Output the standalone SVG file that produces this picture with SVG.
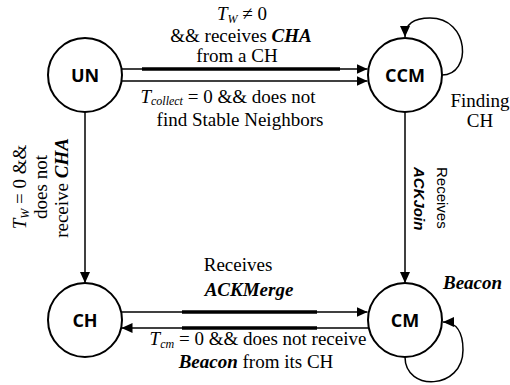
<svg xmlns="http://www.w3.org/2000/svg" width="510" height="385" viewBox="0 0 510 385">
<style>
.node{fill:#fff;stroke:#000;stroke-width:2}
.nl{font-family:"Open Sans","Liberation Sans",sans-serif;font-weight:bold;font-size:18px;text-anchor:middle;fill:#000}
.ln{fill:none;stroke:#000;stroke-width:1.5}
.thick{fill:none;stroke:#000;stroke-width:3.5}
.t{font-family:'Liberation Serif','Times New Roman','DejaVu Serif',serif;font-size:19px;fill:#000;text-anchor:middle}
.i{font-style:italic}
.bi{font-style:italic;font-weight:bold}
.sub{font-style:italic;font-size:12px}
.s{font-family:'Liberation Sans',Arial,sans-serif;font-size:15px;fill:#000}
</style>
<defs>
<marker id="ah" markerUnits="userSpaceOnUse" markerWidth="12" markerHeight="10" refX="11" refY="5" orient="auto">
<path d="M0,0 L11,5 L0,10 z" fill="#000"/>
</marker>
</defs>
<g id="connectors">
<path class="ln" d="M121.5,69 H367.5" marker-end="url(#ah)"/>
<path class="ln" d="M121.5,81 H367.5" marker-end="url(#ah)"/>
<path class="thick" d="M142,69 H340"/>
<path class="ln" d="M85,112 V283" marker-end="url(#ah)"/>
<path class="ln" d="M405,112 V283" marker-end="url(#ah)"/>
<path class="ln" d="M121,312 H367.5" marker-end="url(#ah)"/>
<path class="ln" d="M369,328 H121.5" marker-end="url(#ah)"/>
<path class="thick" d="M182,312 H317"/>
<path class="thick" d="M182,328 H317"/>
<path class="ln" d="M442,75 C472,75 470,18 430,18 C412,18 405,25 405,37" marker-end="url(#ah)"/>
<path class="ln" d="M405,357 C405,392 463,390 463,350 C463,332 456,322 443,322" marker-end="url(#ah)"/>
</g>
<g id="UN"><circle class="node" cx="85" cy="75" r="37"/><text class="nl" x="85" y="82">UN</text></g>
<g id="CCM"><circle class="node" cx="405" cy="75" r="37"/><text class="nl" x="405" y="82">CCM</text></g>
<g id="CH"><circle class="node" cx="85" cy="320" r="37"/><text class="nl" x="85" y="327">CH</text></g>
<g id="CM"><circle class="node" cx="405" cy="320" r="37"/><text class="nl" x="405" y="327">CM</text></g>
<g id="labels">
<text class="t" x="242" y="20"><tspan class="i">T</tspan><tspan class="sub" dy="3">W</tspan><tspan dy="-3"> ≠ 0</tspan></text>
<text class="t" x="241" y="42">&amp;&amp; receives <tspan class="bi">CHA</tspan></text>
<text class="t" x="237" y="62">from a CH</text>
<text class="t" x="228" y="103"><tspan class="i">T</tspan><tspan class="sub" dy="2">collect</tspan><tspan dy="-2"> = 0 &amp;&amp; does not</tspan></text>
<text class="t" x="240" y="126">find Stable Neighbors</text>
<text class="t" x="480" y="107">Finding</text>
<text class="t" x="480" y="127">CH</text>
<g transform="translate(26,187) rotate(-90)"><text class="t" x="0" y="0"><tspan class="i">T</tspan><tspan class="sub" dy="3">W</tspan><tspan dy="-3"> = 0 &amp;&amp;</tspan></text></g>
<g transform="translate(47,187) rotate(-90)"><text class="t" x="0" y="0">does not</text></g>
<g transform="translate(68,188) rotate(-90)"><text class="t" x="0" y="0">receive <tspan class="bi">CHA</tspan></text></g>
<g transform="translate(437,167) rotate(90)"><text class="s" x="0" y="0">Receives</text></g>
<g transform="translate(414,167) rotate(90)"><text class="s" x="0" y="0" font-weight="bold" font-style="italic">ACKJoin</text></g>
<text class="t" x="238" y="271">Receives</text>
<text class="t bi" x="249" y="296">ACKMerge</text>
<text class="t" x="258" y="345"><tspan class="i">T</tspan><tspan class="sub" dy="3">cm</tspan><tspan dy="-3"> = 0 &amp;&amp; does not receive</tspan></text>
<text class="t" x="256" y="368"><tspan class="bi">Beacon</tspan> from its CH</text>
<text class="t bi" x="443" y="289" style="text-anchor:start">Beacon</text>
</g>
</svg>
